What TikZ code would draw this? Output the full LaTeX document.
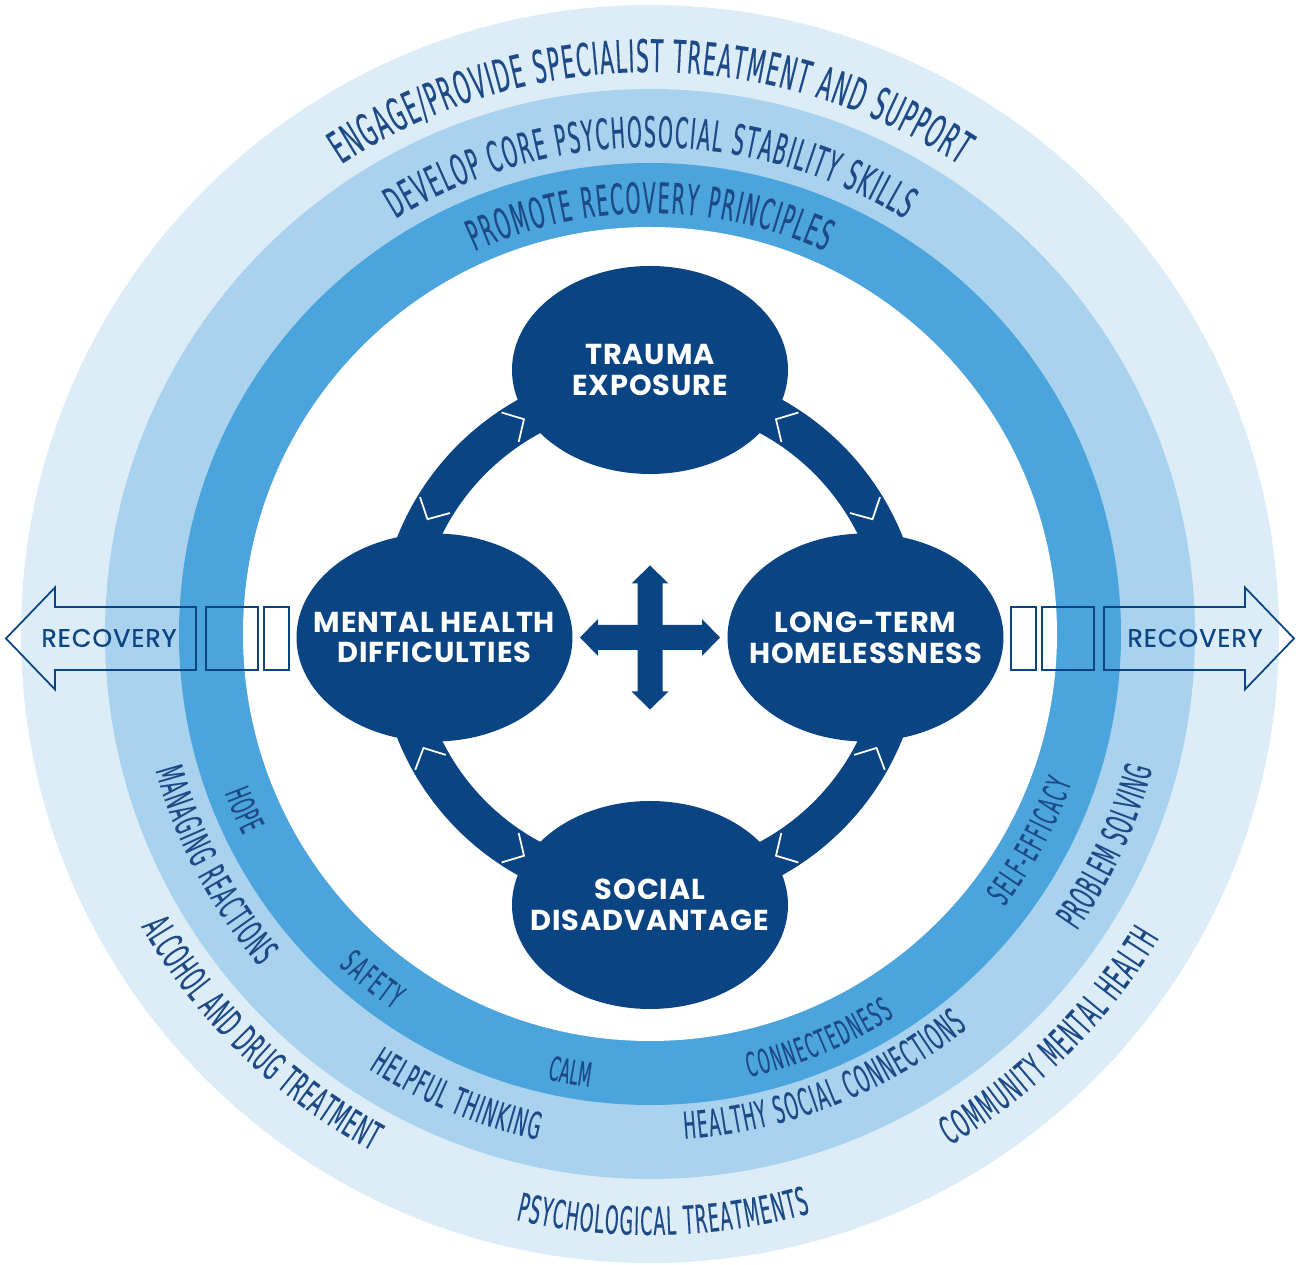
\documentclass[tikz,border=0pt]{standalone}
\usepackage{fontspec}
\setmainfont{Poppins}
\newfontfamily\ringfont[FakeStretch=0.45,FakeBold=0.3]{DejaVu Sans}
\usepackage{xcolor}
\usepackage{tikz}
\usetikzlibrary{shapes.geometric,decorations.text}

\definecolor{ringpale}{HTML}{DDEDF8}
\definecolor{ringlight}{HTML}{A9D2EE}
\definecolor{ringmid}{HTML}{4BA5DC}
\definecolor{navy}{HTML}{0B4483}
\definecolor{ringink}{HTML}{1D4A86}

% text on the top of a ring (clockwise) and on the lower part (anticlockwise)
\newcommand{\toptext}[4]{%
  \path[decorate, decoration={text along path, text align=fit to path,
      text={|\ringfont\fontsize{#2}{#2}\selectfont\color{ringink}|#4}}]
    ({90+#3}:#1) arc[start angle={90+#3}, end angle={90-#3}, radius=#1];}
\newcommand{\bottext}[5]{%
  \path[decorate, decoration={text along path, text align=fit to path,
      text={|\ringfont\fontsize{#3}{#3}\selectfont\color{ringink}|#5}}]
    ({#1-#4}:#2) arc[start angle={#1-#4}, end angle={#1+#4}, radius=#2];}

\tikzset{
  blob/.style={ellipse, fill=navy, text=white, minimum width=2.76cm,
    minimum height=2.08cm, inner sep=-0.25cm, align=center,
    font=\bfseries\fontsize{8.2}{8.8}\selectfont\addfontfeature{LetterSpace=3}},
  loopband/.style={navy, line width=0.4cm},
  chev/.style={white, line width=0.5pt},
  recline/.style={draw=navy, line width=0.5pt},
  reclabel/.style={text=navy, inner sep=0pt,
    font=\fontsize{7.2}{8}\selectfont\addfontfeature{LetterSpace=4,FakeBold=0.8}},
}

\begin{document}
\begin{tikzpicture}
    \useasboundingbox (-6.50,-6.31) rectangle (6.46,6.34);

    % Rings
    \fill[ringpale] (0,0) circle[radius=6.29];
    \fill[ringlight] (0,0) circle[radius=5.45];
    \fill[ringmid] (0,0) circle[radius=4.71];
    \fill[white] (0,0) circle[radius=4.07];

    % Ring texts
    \toptext{5.62}{12.8}{33.3}{ENGAGE/PROVIDE SPECIALIST TREATMENT AND SUPPORT}
    \toptext{4.87}{12}{31.5}{DEVELOP CORE PSYCHOSOCIAL STABILITY SKILLS}
    \toptext{4.21}{12}{24.6}{PROMOTE RECOVERY PRINCIPLES}

    \bottext{225.8}{5.87}{11}{15.9}{ALCOHOL AND DRUG TREATMENT}
    \bottext{271.3}{6.01}{11}{14.2}{PSYCHOLOGICAL TREATMENTS}
    \bottext{314.8}{5.93}{11}{14.4}{COMMUNITY MENTAL HEALTH}

    \bottext{207.9}{5.13}{10.6}{12.5}{MANAGING REACTIONS}
    \bottext{247.3}{5.18}{10.6}{10.2}{HELPFUL THINKING}
    \bottext{291.4}{5.06}{10.6}{17.5}{HEALTHY SOCIAL CONNECTIONS}
    \bottext{335.1}{5.20}{10.6}{9.9}{PROBLEM SOLVING}

    \bottext{203.4}{4.54}{9.5}{2.9}{HOPE}
    \bottext{231.2}{4.55}{9.5}{4.4}{SAFETY}
    \bottext{259.7}{4.57}{9.5}{2.7}{CALM}
    \bottext{292.6}{4.54}{9.5}{10.0}{CONNECTEDNESS}
    \bottext{331.5}{4.47}{9.5}{9.1}{SELF-EFFICACY}

    % Recovery arrows
    \foreach \sx in {-1,1} {
      \begin{scope}[xscale=\sx, yshift=-0.045cm]
        \draw[recline] (3.61,-0.315) rectangle (3.86,0.315);
        \draw[recline] (3.92,-0.315) rectangle (4.44,0.315);
        \draw[recline] (4.54,-0.315) -- (5.95,-0.315) -- (5.95,-0.51) -- (6.44,0)
          -- (5.95,0.51) -- (5.95,0.315) -- (4.54,0.315) -- cycle;
      \end{scope}
    }
    \node[reclabel] (recleft) at (-5.41,-0.04) {RECOVERY};
    \node[reclabel] (recright) at (5.45,-0.04) {RECOVERY};

    % Cycle
    \begin{scope}[yshift=-0.035cm]
      \foreach \a in {5,95,185,275}
        \draw[loopband] (\a:2.52) arc[start angle=\a, end angle=\a+80, radius=2.52];
      \foreach \a/\d in {120/-90, 152/90, 60/90, 28/-90, 206/-90, 240/90, 334/90, 300/-90}
        \draw[chev, shift={(\a:2.52)}, rotate=\a+\d] (-0.16,0.17) -- (0,0) -- (-0.16,-0.17);

      \node[blob] (trauma) at (0,2.675) {TRAUMA\\EXPOSURE};
      \node[blob] (mental) at (-2.155,0) {MENTAL HEALTH\\DIFFICULTIES};
      \node[blob] (homeless) at (2.155,0) {LONG-TERM\\HOMELESSNESS};
      \node[blob] (social) at (0,-2.675) {SOCIAL\\DISADVANTAGE};

      % Cross
      \foreach \r/\l in {0/0.70, 90/0.72}
        \fill[navy, rotate=\r] (-\l,0) -- (-\l+0.18,0.185) -- (-\l+0.18,0.125)
          -- (\l-0.18,0.125) -- (\l-0.18,0.185) -- (\l,0) -- (\l-0.18,-0.185)
          -- (\l-0.18,-0.125) -- (-\l+0.18,-0.125) -- (-\l+0.18,-0.185) -- cycle;
    \end{scope}
\end{tikzpicture}
\end{document}
